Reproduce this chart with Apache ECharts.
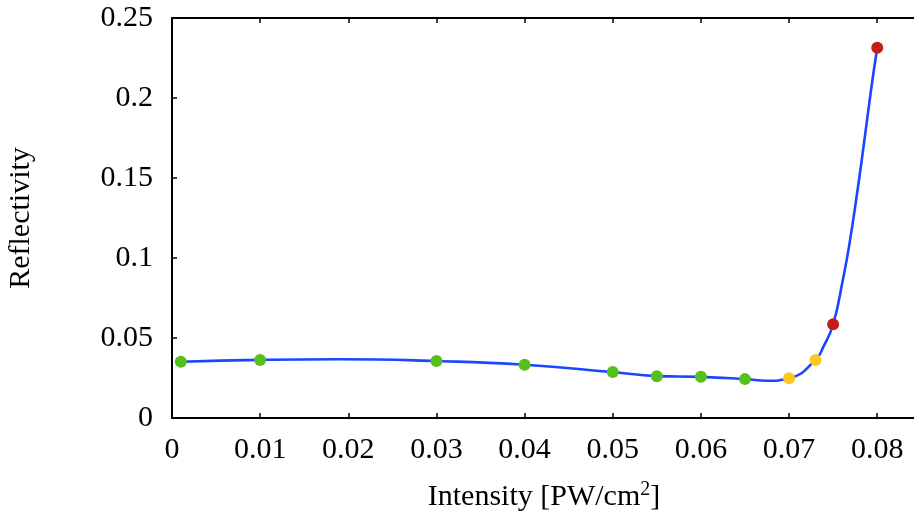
<!DOCTYPE html>
<html>
<head>
<meta charset="utf-8">
<script src="https://cdn.jsdelivr.net/npm/echarts@6/dist/echarts.min.js"></script>
<style>html,body{margin:0;padding:0;background:#fff;}#c{width:914px;height:521px;}</style>
</head>
<body>
<div id="c"></div>
<script>
// measured points
const greenX = [0.001, 0.01, 0.03, 0.04, 0.05, 0.055, 0.06, 0.065];
const greenY = [0.0352, 0.03625, 0.0356, 0.0333, 0.0287, 0.0261, 0.0258, 0.0243];
const yellowX = [0.07, 0.073];
const yellowY = [0.0248, 0.03625];
const redX = [0.075, 0.08];
const redY = [0.0586, 0.2314];
// fitted curve
const curveX = [0.001, 0.01, 0.0187, 0.03, 0.04, 0.05, 0.055, 0.06, 0.065, 0.0675, 0.07, 0.073, 0.0739, 0.075, 0.0761, 0.0768, 0.0778, 0.07855, 0.0793, 0.08];
const curveY = [0.0352, 0.0363, 0.0367, 0.0356, 0.0333, 0.0287, 0.0262, 0.0257, 0.0243, 0.0233, 0.0248, 0.0363, 0.0446, 0.0586, 0.0863, 0.1071, 0.1436, 0.1738, 0.205, 0.2314];
const xTicks = [0, 0.01, 0.02, 0.03, 0.04, 0.05, 0.06, 0.07, 0.08];
const yTicks = [0, 0.05, 0.1, 0.15, 0.2, 0.25];

const zip = (xs, ys) => xs.map((x, i) => [x, ys[i]]);
const font = 'Liberation Serif';
const chart = echarts.init(document.getElementById('c'));
const tickFmt = v => {
  const ok = xTicks.concat(yTicks).some(t => Math.abs(t - v) < 1e-9);
  return ok ? String(+v.toFixed(3)) : '';
};
const XMAX = 0.0844;
chart.setOption({
  animation: false,
  grid: {left: 172, top: 18, right: -2, bottom: 103, show: false, containLabel: false, outerBoundsMode: 'none'},
  xAxis: [{
    type: 'value', min: 0, max: XMAX, interval: 0.01,
    axisLine: {show: true, onZero: false, lineStyle: {color: '#000', width: 2}},
    axisTick: {show: true, inside: true, length: 5, lineStyle: {color: '#000', width: 1.5}},
    splitLine: {show: false},
    axisLabel: {formatter: tickFmt, color: '#000', fontFamily: font, fontSize: 30, margin: 17, showMaxLabel: false},
    name: '{a|Intensity [PW/cm}{s|2}{a|]}', nameLocation: 'middle', nameGap: 62,
    nameTextStyle: {rich: {
      a: {fontFamily: font, fontSize: 30, color: '#000', verticalAlign: 'bottom', lineHeight: 32},
      s: {fontFamily: font, fontSize: 20, color: '#000', verticalAlign: 'top', padding: [0,0,14,0], lineHeight: 32}
    }}
  }, {
    type: 'value', position: 'top', min: 0, max: XMAX, interval: 0.01,
    axisLine: {show: true, onZero: false, lineStyle: {color: '#000', width: 2}},
    axisTick: {show: true, inside: true, length: 5, lineStyle: {color: '#000', width: 1.5}},
    axisLabel: {show: false}, splitLine: {show: false}
  }],
  yAxis: [{
    type: 'value', min: 0, max: 0.25, interval: 0.05,
    axisLine: {show: true, onZero: false, lineStyle: {color: '#000', width: 2}},
    axisTick: {show: true, inside: true, length: 5, lineStyle: {color: '#000', width: 1.5}},
    splitLine: {show: false},
    axisLabel: {formatter: tickFmt, color: '#000', fontFamily: font, fontSize: 30, margin: 19},
    name: 'Reflectivity', nameLocation: 'middle', nameGap: 136, nameRotate: 90,
    nameTextStyle: {fontFamily: font, fontSize: 30, color: '#000'}
  }],
  series: [
    {type: 'line', data: zip(curveX, curveY), smooth: 0.5, smoothConstraint: false, showSymbol: false, symbol: 'none',
     lineStyle: {color: 'rgb(25,70,255)', width: 2.6}, z: 2},
    {type: 'scatter', data: zip(greenX, greenY), symbolSize: 12, itemStyle: {color: 'rgb(88,192,30)', opacity: 1}, z: 3},
    {type: 'scatter', data: zip(yellowX, yellowY), symbolSize: 12, itemStyle: {color: 'rgb(250,200,30)', opacity: 1}, z: 3},
    {type: 'scatter', data: zip(redX, redY), symbolSize: 12, itemStyle: {color: 'rgb(195,30,25)', opacity: 1}, z: 3}
  ]
});
</script>
</body>
</html>
